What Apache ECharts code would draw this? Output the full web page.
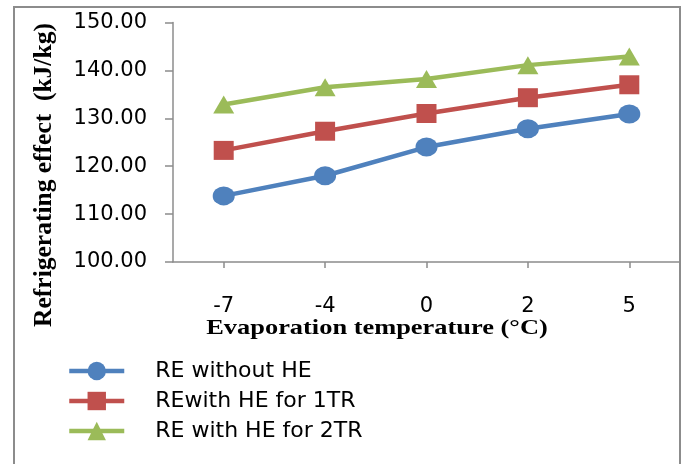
<!DOCTYPE html>
<html>
<head>
<meta charset="utf-8">
<script src="https://cdn.jsdelivr.net/npm/echarts@6/dist/echarts.min.js"></script>
<style>html,body{margin:0;padding:0;background:#fff;}#c{width:686px;height:464px;}</style>
</head>
<body>
<div id="c"></div>
<script>
const categories = ['-7', '-4', '0', '2', '5'];
const seriesNames = ['RE without HE', 'REwith HE for 1TR', 'RE with HE for 2TR'];
const reWithoutHE = [113.8, 118.0, 124.0, 127.8, 130.9];
const reWithHE1TR = [123.3, 127.3, 131.0, 134.3, 137.0];
const reWithHE2TR = [132.9, 136.5, 138.2, 141.1, 142.9];
const yTicks = { min: 100, max: 150, interval: 10 };
const yTitle = 'Refrigerating effect  (kJ/kg)';
const xTitle = 'Evaporation temperature (°C)';

const colors = ['#4F81BD', '#C0504D', '#9BBB59'];
const symbols = ['circle', 'rect', 'triangle'];
const sizes = [[22, 19], [20, 19], [21, 18]];
const values = [reWithoutHE, reWithHE1TR, reWithHE2TR];

const chart = echarts.init(document.getElementById('c'), null, { renderer: 'canvas' });
const sans = 'DejaVu Sans';
chart.setOption({
  animation: false,
  backgroundColor: '#ffffff',
  grid: { left: 173, right: 6, top: 22.5, bottom: 202, containLabel: false },
  xAxis: {
    type: 'category',
    data: categories,
    boundaryGap: true,
    axisLine: { show: true, lineStyle: { color: '#8c8c8c', width: 1.5 } },
    axisTick: { show: true, alignWithLabel: true, length: 6, lineStyle: { color: '#8c8c8c', width: 1.5 } },
    axisLabel: { margin: 34, color: '#000', fontFamily: sans, fontSize: 21 },
    splitLine: { show: false }
  },
  yAxis: {
    type: 'value',
    min: yTicks.min, max: yTicks.max, interval: yTicks.interval,
    axisLine: { show: true, lineStyle: { color: '#8c8c8c', width: 1.5 } },
    axisTick: { show: true, length: 8, lineStyle: { color: '#8c8c8c', width: 1.5 } },
    axisLabel: { margin: 26, color: '#000', fontFamily: sans, fontSize: 21, formatter: v => v.toFixed(2) },
    splitLine: { show: false }
  },
  legend: {
    orient: 'vertical',
    left: 62, top: 355,
    itemWidth: 55, itemHeight: 23, itemGap: 8,
    data: seriesNames,
    lineStyle: { width: 4.5 },
    textStyle: { color: '#000', fontFamily: sans, fontSize: 22, lineHeight: 22, padding: [0, 0, 0, 26] }
  },
  graphic: [
    { type: 'rect', shape: { x: 14, y: 7, width: 666, height: 480 }, style: { fill: 'none', stroke: '#8c8c8c', lineWidth: 2 }, silent: true, z: -1 },
    { type: 'text', x: 44, y: 175, rotation: Math.PI / 2,
      style: { text: yTitle, font: 'bold 25.5px "Liberation Serif"', fill: '#000', textAlign: 'center', textVerticalAlign: 'middle' } },
    { type: 'text', x: 377, y: 328, scaleX: 1.2,
      style: { text: xTitle, font: 'bold 22px "Liberation Serif"', fill: '#000', textAlign: 'center', textVerticalAlign: 'middle' } }
  ],
  series: seriesNames.map((n, i) => ({
    name: n,
    type: 'line',
    data: values[i],
    symbol: symbols[i],
    symbolSize: sizes[i],
    showAllSymbol: true,
    lineStyle: { color: colors[i], width: 4.5 },
    itemStyle: { color: colors[i] },
    emphasis: { disabled: true }
  }))
});
</script>
</body>
</html>
